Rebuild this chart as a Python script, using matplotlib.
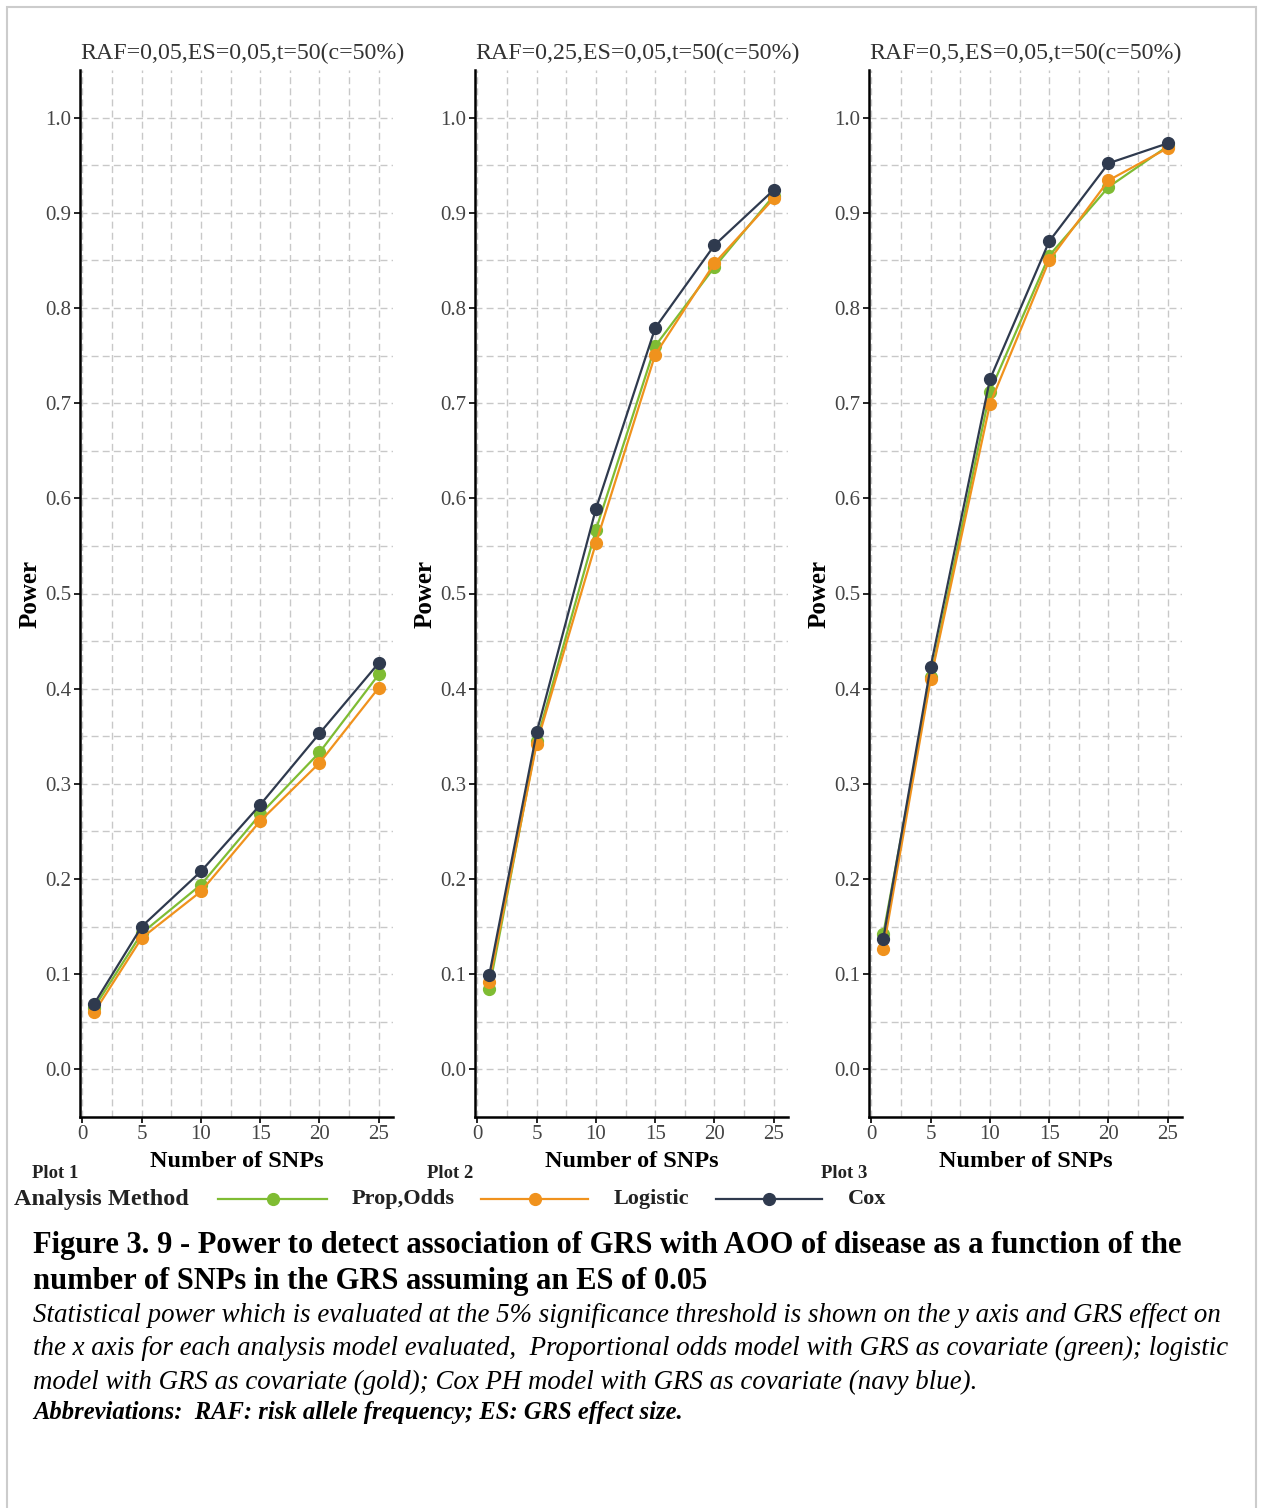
import matplotlib.pyplot as plt
from matplotlib.lines import Line2D
from matplotlib.patches import Rectangle

# data
snps = [1, 5, 10, 15, 20, 25]
titles = ["RAF=0,05,ES=0,05,t=50(c=50%)",
          "RAF=0,25,ES=0,05,t=50(c=50%)",
          "RAF=0,5,ES=0,05,t=50(c=50%)"]
prop_odds = [[0.065, 0.143, 0.194, 0.268, 0.333, 0.415],
             [0.085, 0.345, 0.567, 0.760, 0.843, 0.918],
             [0.142, 0.412, 0.712, 0.855, 0.927, 0.970]]
logistic = [[0.060, 0.138, 0.187, 0.261, 0.322, 0.401],
            [0.092, 0.342, 0.553, 0.751, 0.847, 0.915],
            [0.126, 0.410, 0.699, 0.850, 0.934, 0.968]]
cox = [[0.069, 0.150, 0.208, 0.278, 0.353, 0.427],
       [0.099, 0.354, 0.589, 0.779, 0.866, 0.924],
       [0.137, 0.423, 0.725, 0.870, 0.952, 0.973]]
methods = ["Prop,Odds", "Logistic", "Cox"]
colors = ["#7fbc33", "#f0921d", "#2f3a4e"]
yticks = [0.0, 0.1, 0.2, 0.3, 0.4, 0.5, 0.6, 0.7, 0.8, 0.9, 1.0]
xticks = [0, 5, 10, 15, 20, 25]

plt.rcParams['font.family'] = ['Liberation Serif', 'DejaVu Serif']

W, H = 1264, 1508
fig = plt.figure(figsize=(W / 100, H / 100), dpi=100)

# page frame
fig.patches.append(Rectangle((7 / W, -0.01), (1256 - 7) / W, (H - 7) / H + 0.01,
                             transform=fig.transFigure, fill=False,
                             edgecolor="#cccccc", lw=1.5))

lefts = [80, 475, 869]
ax_w = 313
top, bottom = 70, 1117
for i in range(3):
    ax = fig.add_axes([lefts[i] / W, (H - bottom) / H, ax_w / W, (bottom - top) / H])
    series = [prop_odds[i], logistic[i], cox[i]]
    for vals, c in zip(series, colors):
        ax.plot(snps, vals, color=c, lw=1.6, marker='o', ms=8.5, zorder=3)
    ax.set_xlim(-0.2, 26.2)
    ax.set_ylim(-0.05, 1.05)
    ax.set_xticks(xticks)
    ax.set_xticks([2.5, 7.5, 12.5, 17.5, 22.5], minor=True)
    ax.set_yticks(yticks)
    ax.set_yticks([0.05 + 0.1 * k for k in range(10)], minor=True)
    ax.set_yticklabels([f"{v:.1f}" for v in yticks])
    ax.grid(True, which='both', color='#c8c8c8', ls=(0, (5, 3)), lw=1.0)
    ax.tick_params(which='minor', length=0)
    ax.tick_params(which='major', length=4, width=1.2, color='black',
                   labelsize=15, labelcolor='#444444', pad=2)
    for s in ['top', 'right']:
        ax.spines[s].set_visible(False)
    for s in ['left', 'bottom']:
        ax.spines[s].set_linewidth(1.8)
    ax.set_title(titles[i], loc='left', fontsize=17.2, color='#333333', pad=8)
    ax.set_xlabel("Number of SNPs", fontsize=17.5, fontweight='bold', labelpad=5)
    ax.set_ylabel("Power", fontsize=18, fontweight='bold', labelpad=3)
    fig.text((lefts[i] - 48) / W, 1 - 1173 / H, f"Plot {i + 1}", fontsize=13.5,
             fontweight='bold', va='center', color='#222222')

# legend row
ly = 1 - 1199 / H
fig.text(14 / W, ly, "Analysis Method", fontsize=17.5, fontweight='bold', va='center',
         color='#222222')
seg = [(218, 327), (481, 588), (716, 822)]
lab_x = [352, 614, 848]
for (x0, x1), c, m, lx in zip(seg, colors, methods, lab_x):
    fig.add_artist(Line2D([x0 / W, x1 / W], [ly, ly], color=c, lw=1.6,
                          transform=fig.transFigure))
    fig.add_artist(Line2D([(x0 + x1) / 2 / W], [ly], color=c, marker='o', ms=8.5,
                          transform=fig.transFigure))
    fig.text(lx / W, ly, m, fontsize=16, fontweight='bold', va='center', color='#222222')

# caption
fig.text(33 / W, 1 - 1246 / H,
         "Figure 3. 9 - Power to detect association of GRS with AOO of disease as a function of the",
         fontsize=22, fontweight='bold', va='center')
fig.text(33 / W, 1 - 1281 / H, "number of SNPs in the GRS assuming an ES of 0.05",
         fontsize=22, fontweight='bold', va='center')
cap = ["Statistical power which is evaluated at the 5% significance threshold is shown on the y axis and GRS effect on",
       "the x axis for each analysis model evaluated,  Proportional odds model with GRS as covariate (green); logistic",
       "model with GRS as covariate (gold); Cox PH model with GRS as covariate (navy blue)."]
for k, line in enumerate(cap):
    fig.text(33 / W, 1 - (1315 + 33.5 * k) / H, line, fontsize=19.4, style='italic', va='center')
fig.text(33 / W, 1 - 1413 / H, "Abbreviations:  RAF: risk allele frequency; ES: GRS effect size.",
         fontsize=17.7, style='italic', fontweight='bold', va='center')

fig.savefig("out.png", dpi=100, facecolor='white')
